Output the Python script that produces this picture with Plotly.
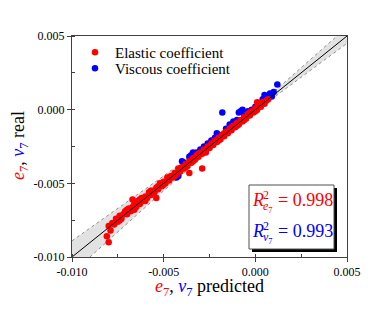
import plotly.graph_objects as go

# ---- data ----
elastic_pred = [-0.0081, -0.0080, -0.0080, -0.0078, -0.0077, -0.0076, -0.0075, -0.0074, -0.0073, -0.0072,
                -0.0071, -0.0070, -0.0069, -0.0068, -0.0067, -0.0067, -0.0066, -0.0065, -0.0064, -0.0063,
                -0.0062, -0.0061, -0.0060, -0.0059, -0.0058, -0.0057, -0.0056, -0.0055, -0.0054, -0.0054,
                -0.0053, -0.0052, -0.0051, -0.0050, -0.0049, -0.0048, -0.0047, -0.0046, -0.0045, -0.0044,
                -0.0043, -0.0042, -0.0041, -0.0040, -0.0039, -0.0038, -0.0037, -0.0036, -0.0036, -0.0035,
                -0.0034, -0.0033, -0.0032, -0.0031, -0.0030, -0.0029, -0.0029, -0.0028, -0.0027, -0.0026,
                -0.0025, -0.0024, -0.0023, -0.0022, -0.0021, -0.0020, -0.0019, -0.0018, -0.0017, -0.0016,
                -0.0015, -0.0014, -0.0013, -0.0012, -0.0011, -0.0010, -0.0009, -0.0008, -0.0007, -0.0006,
                -0.0005, -0.0004, -0.0003, -0.0002, -0.0001, 0.0000, 0.0001, 0.0001, 0.0002, 0.0003,
                0.0004, 0.0005, 0.0006, 0.0007,
                -0.0079, -0.0074, -0.0070, -0.0066, -0.0063, -0.0060, -0.0057, -0.0053, -0.0050, -0.0047,
                -0.0044, -0.0041, -0.0038, -0.0034, -0.0031, -0.0027, -0.0024, -0.0020, -0.0017, -0.0013,
                -0.0010, -0.0006, -0.0003, 0.0000, 0.0003]
elastic_real = [-0.0086, -0.0090, -0.0079, -0.0077, -0.0078, -0.0074, -0.0076, -0.0072, -0.0074, -0.0071,
                -0.0069, -0.0071, -0.0067, -0.0069, -0.0061, -0.0066, -0.0064, -0.0066, -0.0062, -0.0064,
                -0.0060, -0.0062, -0.0059, -0.0060, -0.0056, -0.0058, -0.0055, -0.0056, -0.0060, -0.0053,
                -0.0054, -0.0050, -0.0052, -0.0049, -0.0050, -0.0046, -0.0048, -0.0045, -0.0046, -0.0043,
                -0.0044, -0.0040, -0.0042, -0.0039, -0.0040, -0.0037, -0.0038, -0.0043, -0.0035, -0.0036,
                -0.0033, -0.0034, -0.0031, -0.0032, -0.0029, -0.0040, -0.0030, -0.0027, -0.0028, -0.0025,
                -0.0026, -0.0023, -0.0024, -0.0021, -0.0022, -0.0019, -0.0020, -0.0017, -0.0018, -0.0015,
                -0.0016, -0.0013, -0.0014, -0.0011, -0.0012, -0.0009, -0.0010, -0.0007, -0.0008, -0.0005,
                -0.0006, -0.0003, -0.0004, -0.0001, -0.0002, 0.0001, 0.0005, 0.0000, 0.0003, 0.0002,
                0.0005, 0.0004, 0.0006, 0.0007,
                -0.0082, -0.0075, -0.0068, -0.0068, -0.0061, -0.0062, -0.0055, -0.0052, -0.0051, -0.0046,
                -0.0045, -0.0040, -0.0039, -0.0035, -0.0030, -0.0029, -0.0024, -0.0021, -0.0016, -0.0012,
                -0.0011, -0.0007, -0.0002, -0.0001, 0.0004]

viscous_pred = [-0.0043, -0.0042, -0.0040, -0.0039, -0.0036, -0.0035, -0.0034, -0.0032, -0.0030, -0.0028,
                -0.0026, -0.0024, -0.0022, -0.0021, -0.0020, -0.0018, -0.0016, -0.0014, -0.0013, -0.0012,
                -0.0010, -0.0009, -0.0008, -0.0007, -0.0006, -0.0004, -0.0002, 0.0000, 0.0002, 0.0004,
                0.0005, 0.0006, 0.0008, 0.0009, 0.0010, 0.0012]
viscous_real = [-0.0046, -0.0045, -0.0035, -0.0036, -0.0032, -0.0031, -0.0029, -0.0029, -0.0027, -0.0025,
                -0.0023, -0.0021, -0.0019, -0.0016, -0.0017, -0.0002, -0.0013, -0.0010, -0.0011, -0.0008,
                -0.0007, -0.0002, -0.0001, 0.0000, -0.0004, -0.0001, 0.0000, 0.0002, 0.0004, 0.0007,
                0.0010, 0.0008, 0.0011, 0.0009, 0.0012, 0.0017]

band_x = [-0.010, -0.005, 0.0, 0.005]
band_upper = [-0.0089, -0.0045, 0.0001, 0.0056]
band_lower = [-0.0111, -0.0055, -0.0001, 0.0045]
ideal_x = [-0.010, 0.005]
ideal_y = [-0.010, 0.005]

tick_vals = [-0.010, -0.005, 0.000, 0.005]
tick_labels = ["-0.010", "-0.005", "0.000", "0.005"]
r2_elastic = "0.998"
r2_viscous = "0.993"

FONT = "Liberation Serif, Times New Roman, serif"
RED = "#ff0000"
BLUE = "#0000ff"

fig = go.Figure()

# confidence band
fig.add_trace(go.Scatter(x=band_x + band_x[::-1], y=band_upper + band_lower[::-1],
                         fill="toself", fillcolor="rgba(190,190,190,0.45)",
                         line=dict(width=0), mode="lines", showlegend=False, hoverinfo="skip"))
fig.add_trace(go.Scatter(x=band_x, y=band_upper, mode="lines",
                         line=dict(color="#909090", width=1, dash="dot"), showlegend=False))
fig.add_trace(go.Scatter(x=band_x, y=band_lower, mode="lines",
                         line=dict(color="#909090", width=1, dash="dot"), showlegend=False))

fig.add_trace(go.Scatter(x=viscous_pred, y=viscous_real, mode="markers", name="Viscous coefficient",
                         marker=dict(color=BLUE, size=6.5), legend="legend2"))
fig.add_trace(go.Scatter(x=elastic_pred, y=elastic_real, mode="markers", name="Elastic coefficient",
                         marker=dict(color=RED, size=6.5), legend="legend"))

fig.add_trace(go.Scatter(x=ideal_x, y=ideal_y, mode="lines", line=dict(color="black", width=1),
                         showlegend=False))

# the page draws the figure 8 px in from its top-left corner, so the
# margins are set 8 px smaller there to land the plot where the reference has it
OFF = 8
W, H = 389, 309
PX0, PX1, PY0, PY1 = 72, 347, 36, 257           # plot area in reference pixels
L, T = PX0 - OFF, PY0 - OFF
R, B = W - (PX1 - OFF), H - (PY1 - OFF)
pw, ph = PX1 - PX0, PY1 - PY0

def px(xp):
    return (xp - PX0) / pw

def py(yp):
    return (PY1 - yp) / ph

axis_common = dict(
    tickvals=tick_vals, ticktext=tick_labels, ticks="outside", ticklen=4, tickwidth=1,
    tickcolor="#404040", showline=True, linecolor="#404040", linewidth=1, mirror=True,
    showgrid=False, zeroline=False, tickfont=dict(family=FONT, size=12, color="black"),
    minor=dict(ticks="inside", ticklen=3, tickcolor="#404040", dtick=0.0025, showgrid=False),
    automargin=False,
)

fig.update_xaxes(range=[-0.010, 0.005], **axis_common)
fig.update_yaxes(range=[-0.010, 0.005], **axis_common)

# axis titles
fig.add_annotation(xref="paper", yref="paper", x=px(209.5), y=py(287), showarrow=False,
                   xanchor="center", yanchor="middle",
                   text='<span style="color:red"><i>e</i><sub>7</sub></span>, '
                        '<span style="color:blue"><i>v</i><sub>7</sub></span> predicted',
                   font=dict(family=FONT, size=18, color="black"))
fig.add_annotation(xref="paper", yref="paper", x=px(19), y=py(146), showarrow=False,
                   xanchor="center", yanchor="middle", textangle=-90,
                   text='<span style="color:red"><i>e</i><sub>7</sub></span>, '
                        '<span style="color:blue"><i>v</i><sub>7</sub></span> real',
                   font=dict(family=FONT, size=18, color="black"))

# R^2 box with shadow
bx0, bx1, by0, by1 = 249, 334, 185, 249
fig.add_shape(type="rect", xref="paper", yref="paper",
              x0=px(bx0 + 3), x1=px(bx1 + 3), y0=py(by1 + 3), y1=py(by0 + 3),
              fillcolor="black", line=dict(width=0), layer="above")
fig.add_shape(type="rect", xref="paper", yref="paper",
              x0=px(bx0), x1=px(bx1), y0=py(by1), y1=py(by0),
              fillcolor="white", line=dict(color="#505050", width=1), layer="above")

def add_r2(y_center, color, letter, value):
    common = dict(xref="paper", yref="paper", showarrow=False, xanchor="left", yanchor="middle",
                  borderpad=0)
    fig.add_annotation(x=px(251), y=py(y_center), text="<i>R</i>",
                       font=dict(family=FONT, size=18, color=color), **common)
    fig.add_annotation(x=px(261.5), y=py(y_center - 5), text="2",
                       font=dict(family=FONT, size=12, color=color), **common)
    fig.add_annotation(x=px(262), y=py(y_center + 7), text="<i>%s</i><sub>7</sub>" % letter,
                       font=dict(family=FONT, size=12, color=color), **common)
    fig.add_annotation(x=px(277), y=py(y_center), text="= " + value,
                       font=dict(family=FONT, size=18, color=color), **common)

add_r2(200, RED, "e", r2_elastic)
add_r2(230.5, BLUE, "v", r2_viscous)

legend_common = dict(xanchor="left", yanchor="top", bgcolor="rgba(0,0,0,0)",
                     font=dict(family=FONT, size=15, color="black"), tracegroupgap=0)

fig.update_layout(
    width=W, height=H,
    margin=dict(l=L, r=R, t=T, b=B),
    plot_bgcolor="white", paper_bgcolor="white",
    legend=dict(x=px(75), y=py(36), **legend_common),
    legend2=dict(x=px(75), y=py(52), **legend_common),
)

fig.write_html("out.html")
